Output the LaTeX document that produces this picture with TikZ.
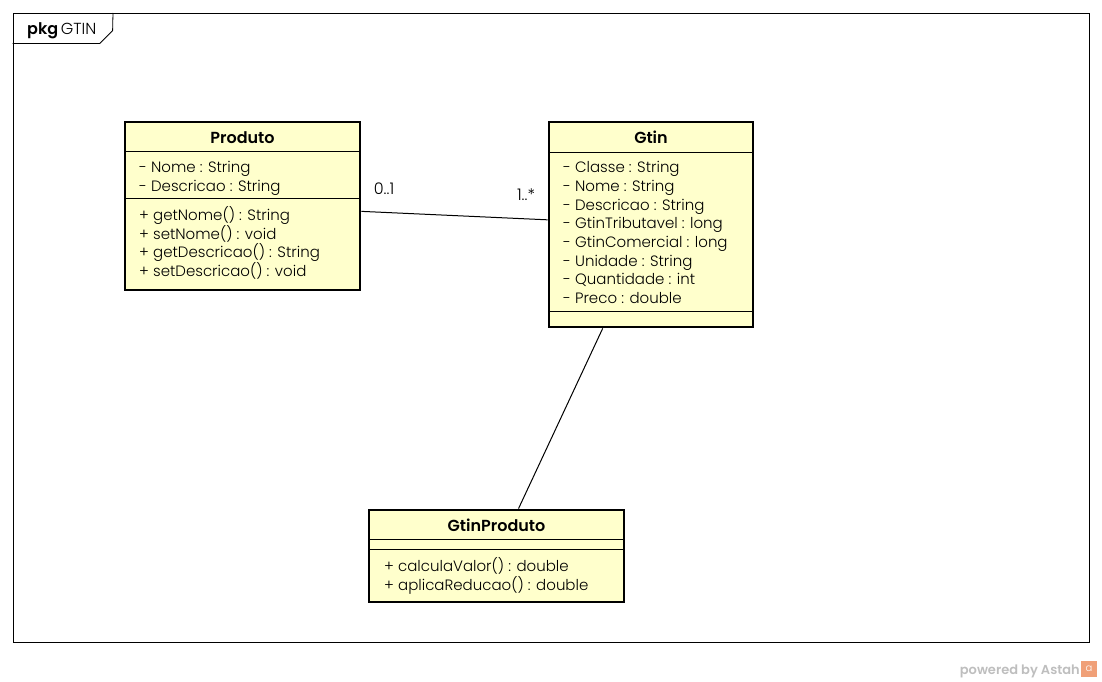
\documentclass[tikz,border=0pt]{standalone}
\usepackage{fontspec}
\setmainfont{Poppins}[UprightFont=* Light, BoldFont=* SemiBold]
\usepackage{tikz}
\usetikzlibrary{arrows}

\definecolor{umlfill}{RGB}{255,255,204}
\definecolor{astahgray}{RGB}{190,190,190}
\definecolor{astahorange}{RGB}{240,160,120}

\begin{document}
\begin{tikzpicture}[x=1pt,y=-1pt]
 \tikzset{classbox/.style = {draw, line width=2.8pt, fill=umlfill, inner sep=0pt}}
 \tikzset{classname/.style = {font=\fontsize{16}{18.7}\selectfont\bfseries, inner sep=0pt, anchor=base}}
 \tikzset{members/.style = {font=\fontsize{15}{18.7}\selectfont, align=left, inner sep=0pt, anchor=base west}}
 \tikzset{mult/.style = {font=\fontsize{16}{18}\selectfont, inner sep=0pt}}
 \tikzset{edge/.style = {line width=1pt}}
 \useasboundingbox (0,0) rectangle (1102,682);

 % package frame
 \node[draw, line width=0.8pt, minimum width=1076pt, minimum height=629pt, inner sep=0pt] (frame) at (551,327.5) {};
 \draw[line width=0.8pt] (frame.north west) ++(0,31) -- ++(87,0) -- ++(13,-13) -- (113,13);
 \node[font=\fontsize{16}{18}\selectfont, anchor=base west, inner sep=0pt] (pkg) at (27,35) {\textbf{pkg}\,GTIN};

 % classes
 \node[classbox, minimum width=235pt, minimum height=168pt] (produto) at (242.5,206) {};
 \node[classbox, minimum width=204pt, minimum height=205pt] (gtin) at (651,224.5) {};
 \node[classbox, minimum width=255pt, minimum height=92pt] (gtinproduto) at (496.5,556) {};

 % compartments
 \draw[line width=0.8pt] (125,151) -- (360,151) (125,198) -- (360,198);
 \draw[line width=0.8pt] (549,152) -- (753,152) (549,311) -- (753,311);
 \draw[line width=0.8pt] (369,539) -- (624,539) (369,549) -- (624,549);

 % texts
 \node[classname] (produtoname) at (242.5,143.5) {Produto};
 \node[members] (produtoattr) at (139,191.5) {- Nome : String\\- Descricao : String};
 \node[members] (produtoops) at (139,276.5) {+ getNome() : String\\+ setNome() : void\\+ getDescricao() : String\\+ setDescricao() : void};

 \node[classname] (gtinname) at (651,143.5) {Gtin};
 \node[members] (gtinattr) at (563,303.5) {- Classe : String\\- Nome : String\\- Descricao : String\\- GtinTributavel : long\\- GtinComercial : long\\- Unidade : String\\- Quantidade : int\\- Preco : double};

 \node[classname] (gtinprodutoname) at (496.5,531.5) {GtinProduto};
 \node[members] (gtinprodutoops) at (384,590.5) {+ calculaValor() : double\\+ aplicaReducao() : double};

 % edges
 \draw[edge] (produto) -- (gtin);
 \draw[edge] (gtin) -- (gtinproduto);
 \node[mult] (m01) at (384,189) {0..1};
 \node[mult] (m1n) at (526,195) {1..*};

 % footer
 \node[font=\fontsize{13}{15}\selectfont\bfseries, text=astahgray, anchor=base east, inner sep=0pt] (powered) at (1080,674) {powered by Astah};
 \node[fill=astahorange, minimum size=16pt, inner sep=0pt, font=\fontsize{10}{10}\selectfont, text=white] (logo) at (1089,669) {a};
\end{tikzpicture}
\end{document}
